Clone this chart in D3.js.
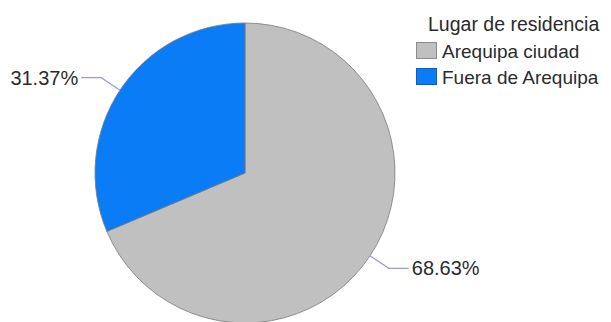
<!DOCTYPE html>
<html>
<head>
<meta charset="utf-8">
<script src="https://cdn.jsdelivr.net/npm/d3@7"></script>
<style>
  html, body { margin: 0; padding: 0; background: #fff; }
  svg { display: block; font-family: "Liberation Sans", Arial, sans-serif; }
</style>
</head>
<body>
<svg id="chart" width="611" height="322"></svg>
<script>
// Lugar de residencia – distribución porcentual
const categories = ["Arequipa ciudad", "Fuera de Arequipa"];
const percents = [68.63, 31.37];
const colors = ["#c0c0c0", "#0a7cf6"];
const strokes = ["#8c8c8c", "#0a5fc0"];
const legendTitle = "Lugar de residencia";

const width = 611, height = 322;
const cx = 245, cy = 173, radius = 150;

const svg = d3.select("#chart");

const pie = d3.pie().sort(null).value(d => d.value);
const arcs = pie(categories.map((c, i) => ({ name: c, value: percents[i], i })));

const arc = d3.arc().innerRadius(0).outerRadius(radius);

const g = svg.append("g").attr("transform", `translate(${cx},${cy})`);

g.selectAll("path.slice")
  .data(arcs)
  .join("path")
  .attr("class", "slice")
  .attr("d", arc)
  .attr("fill", d => colors[d.data.i])
  .attr("stroke", "#7a7a7a")
  .attr("stroke-width", 0.8);

// leader lines and percentage labels
const outerPt = (a, r) => [Math.sin(a) * r, -Math.cos(a) * r];
arcs.forEach(d => {
  const mid = (d.startAngle + d.endAngle) / 2;
  const p0 = outerPt(mid, radius);
  const p1 = outerPt(mid, radius * 1.15);
  const right = p1[0] > 0;
  const p2 = [p1[0] + (right ? 20 : -20), p1[1]];
  g.append("polyline")
    .attr("points", [p0, p1, p2].map(p => p.join(",")).join(" "))
    .attr("fill", "none")
    .attr("stroke", "#9a96ee")
    .attr("stroke-width", 1.2);
  g.append("text")
    .attr("x", p2[0] + (right ? 3 : -3))
    .attr("y", p2[1])
    .attr("dy", "0.36em")
    .attr("text-anchor", right ? "start" : "end")
    .attr("font-size", 20)
    .attr("fill", "#2b2b2b")
    .text(d3.format(".2f")(d.data.value) + "%");
});

// legend
const legend = svg.append("g").attr("transform", "translate(416,0)");
legend.append("text")
  .attr("x", 12)
  .attr("y", 31)
  .attr("font-size", 19.5)
  .attr("fill", "#2b2b2b")
  .text(legendTitle);

const rows = legend.selectAll("g.row")
  .data(categories)
  .join("g")
  .attr("class", "row")
  .attr("transform", (d, i) => `translate(0,${42 + i * 26})`);

rows.append("rect")
  .attr("x", 0.5)
  .attr("y", 0.5)
  .attr("width", 20)
  .attr("height", 16)
  .attr("fill", (d, i) => colors[i])
  .attr("stroke", (d, i) => strokes[i])
  .attr("stroke-width", 1);

rows.append("text")
  .attr("x", 26)
  .attr("y", 16)
  .attr("font-size", 19)
  .attr("fill", "#2b2b2b")
  .text(d => d);
</script>
</body>
</html>
